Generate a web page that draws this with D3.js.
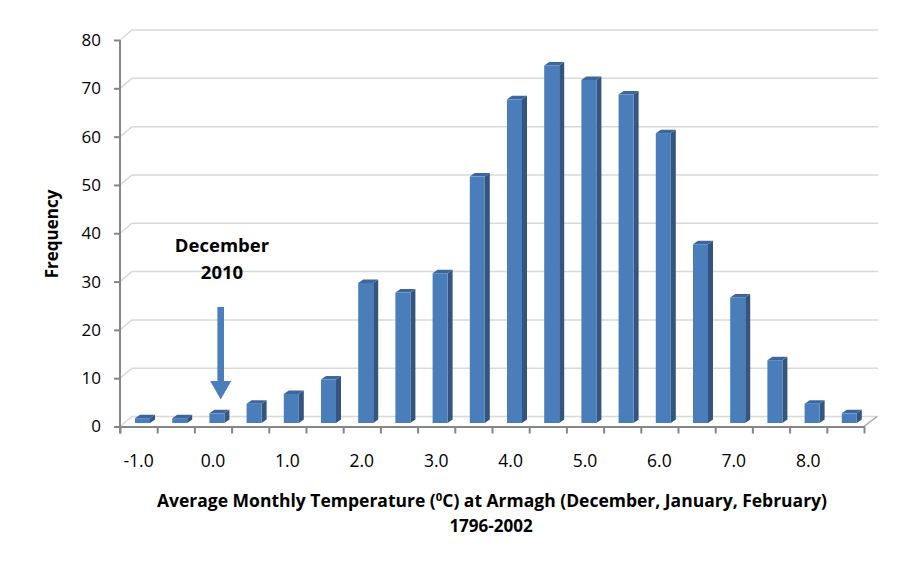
<!DOCTYPE html>
<html>
<head>
<meta charset="utf-8">
<title>Armagh winter temperatures</title>
<script src="https://cdnjs.cloudflare.com/ajax/libs/d3/7.8.5/d3.min.js"></script>
<style>
  body { margin: 0; background: #fff; }
  text { font-family: "Open Sans", "DejaVu Sans", sans-serif; fill: #000; }
</style>
</head>
<body>
<script>
// bins of average monthly temperature, 0.5 degree wide
var bins = ["-1.0", "-0.5", "0.0", "0.5", "1.0", "1.5", "2.0", "2.5", "3.0", "3.5",
            "4.0", "4.5", "5.0", "5.5", "6.0", "6.5", "7.0", "7.5", "8.0", "8.5"];
var frequency = [1, 1, 2, 4, 6, 9, 29, 27, 31, 51, 67, 74, 71, 68, 60, 37, 26, 13, 4, 2];
var yTicks = [0, 10, 20, 30, 40, 50, 60, 70, 80];
var xLabels = ["-1.0", "0.0", "1.0", "2.0", "3.0", "4.0", "5.0", "6.0", "7.0", "8.0"];

var width = 915, height = 569;
var plotLeft = 120, plotRight = 864, plotTop = 40, plotBottom = 426.5;
var depthX = 12, depthY = -10;   // back wall offset

var svg = d3.select("body").append("svg")
  .attr("width", width)
  .attr("height", height);

var x = d3.scaleBand().domain(bins).range([plotLeft, plotRight]).paddingInner(0).paddingOuter(0);
var xEdge = d3.scaleLinear().domain([0, bins.length]).range([plotLeft, plotRight]);
var y = d3.scaleLinear().domain([0, 80]).range([plotBottom, plotTop]);

// gridlines on the back wall, with the diagonal from the axis
var grid = svg.append("g");
yTicks.forEach(function(t) {
  var yy = y(t);
  grid.append("path")
    .attr("d", "M" + plotLeft + "," + yy + "L" + (plotLeft + depthX) + "," + (yy + depthY) + "L" + (plotRight + 14) + "," + (yy + depthY))
    .attr("fill", "none")
    .attr("stroke", "#d9d9d9")
    .attr("stroke-width", 1.5);
});
// right edge of the floor
grid.append("path")
  .attr("d", "M" + plotRight + "," + plotBottom + "L" + (plotRight + depthX + 1) + "," + (plotBottom + depthY))
  .attr("fill", "none")
  .attr("stroke", "#a6a6a6")
  .attr("stroke-width", 1.5);

// 3D bars: front, side and top faces
var bw = 15, bx = 15, sx = 5, sy = -3.5, lift = -3.5;
var bars = svg.append("g").selectAll("g")
  .data(frequency)
  .enter().append("g");

bars.append("path") // side
  .attr("d", function(d, i) {
    var x0 = x(bins[i]) + bx + bw, yT = y(d) + lift, yB = y(0) + lift;
    return "M" + x0 + "," + yT + "L" + (x0 + sx) + "," + (yT + sy) + "L" + (x0 + sx) + "," + (yB + sy) + "L" + x0 + "," + yB + "Z";
  })
  .attr("fill", "#34557f");

bars.append("path") // top
  .attr("d", function(d, i) {
    var x0 = x(bins[i]) + bx, yT = y(d) + lift;
    return "M" + x0 + "," + yT + "L" + (x0 + sx) + "," + (yT + sy) + "L" + (x0 + bw + sx) + "," + (yT + sy) + "L" + (x0 + bw) + "," + yT + "Z";
  })
  .attr("fill", "#3d679c");

bars.append("rect") // front
  .attr("x", function(d, i) { return x(bins[i]) + bx; })
  .attr("y", function(d) { return y(d) + lift; })
  .attr("width", bw)
  .attr("height", function(d) { return y(0) - y(d); })
  .attr("fill", "#4a7ebb");

// y axis
var yAxis = svg.append("g")
  .attr("transform", "translate(" + plotLeft + ",0)")
  .call(d3.axisLeft(y).tickValues(yTicks).tickSize(6).tickPadding(13).tickSizeOuter(0));
yAxis.select(".domain").attr("stroke", "#868686").attr("stroke-width", 2).attr("d", "M0," + plotTop + "V" + (plotBottom + 7));
yAxis.selectAll(".tick line").attr("stroke", "#868686").attr("stroke-width", 2);
yAxis.selectAll(".tick text").style("font-family", "Open Sans").style("font-size", "17px").attr("fill", "#000");

// x axis with ticks at bin edges
var xAxis = svg.append("g")
  .attr("transform", "translate(0," + plotBottom + ")")
  .call(d3.axisBottom(xEdge).tickValues(d3.range(bins.length + 1)).tickFormat("").tickSize(7).tickSizeOuter(0));
xAxis.select(".domain").attr("stroke", "#868686").attr("stroke-width", 2);
xAxis.selectAll(".tick line").attr("stroke", "#868686").attr("stroke-width", 2);

svg.append("g").selectAll("text")
  .data(xLabels)
  .enter().append("text")
  .attr("x", function(d) { return x(d) + x.bandwidth() / 2; })
  .attr("y", 467)
  .attr("text-anchor", "middle")
  .style("font-size", "17.5px")
  .text(function(d) { return d; });

// axis titles
svg.append("text")
  .attr("transform", "translate(58,234) rotate(-90)")
  .attr("text-anchor", "middle")
  .style("font-size", "17px")
  .style("font-weight", "bold")
  .text("Frequency");

var title = svg.append("text")
  .attr("x", 492)
  .attr("y", 507)
  .attr("text-anchor", "middle")
  .attr("textLength", 670)
  .attr("lengthAdjust", "spacingAndGlyphs")
  .style("font-size", "17px")
  .style("font-weight", "bold");
title.append("tspan").text("Average Monthly Temperature (");
title.append("tspan").attr("dy", -6).style("font-size", "11px").text("0");
title.append("tspan").attr("dy", 6).text("C) at Armagh (December, January, February)");

svg.append("text")
  .attr("x", 491)
  .attr("y", 532)
  .attr("text-anchor", "middle")
  .style("font-size", "17px")
  .style("font-weight", "bold")
  .text("1796-2002");

// December 2010 note and arrow
svg.append("text")
  .attr("x", 222)
  .attr("y", 252)
  .attr("text-anchor", "middle")
  .style("font-size", "18.5px")
  .style("font-weight", "bold")
  .text("December");
svg.append("text")
  .attr("x", 222)
  .attr("y", 279)
  .attr("text-anchor", "middle")
  .style("font-size", "18.5px")
  .style("font-weight", "bold")
  .text("2010");

var ax = 220.7;
svg.append("path")
  .attr("d", "M" + (ax - 3.3) + ",307V381H" + (ax - 10.5) + "L" + ax + ",399.5L" + (ax + 10.5) + ",381H" + (ax + 3.3) + "V307Z")
  .attr("fill", "#4a7ebb");
</script>
</body>
</html>
